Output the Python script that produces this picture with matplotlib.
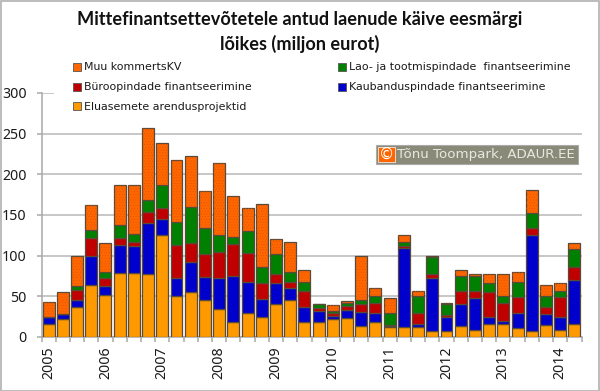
import matplotlib
matplotlib.use("Agg")
import matplotlib.pyplot as plt
import numpy as np
from matplotlib.patches import Rectangle

title = "Mittefinantsettevõtetele antud laenude käive eesmärgi\nlõikes (miljon eurot)"
years = ["2005","2006","2007","2008","2009","2010","2011","2012","2013","2014"]
eluasemete = [15.5,22,37,64,52,79,79,77,126,50,55,46,34,18,30,24,41,45.5,19,19,22,23,13,18,12,12,12,7,7,13,8,16,16,11,7,15,9,16]
kaubandus = [9.5,6,9,35,11,34,33,63,19,23,37,28,39,57,38,23,26,14.5,18,13,4,10,18,11,2,97,4,66,18,27,40,9,4,18,119,13,15,54]
buroo = [0,0,12,23,10,9,5,14,14,40,24,28,31,39,35,20,10,8,20,4,3,5.5,9.5,13,1,3,14,4,2,17,9,30,22,20,8,9,25,16]
lao = [0,0,5,10,7,16,10,14,28,29,44,32,21,8.5,27,19,25,12,11,4,3,3.5,5.5,9,15,5,20,21,14,18,18,12,9,19,18,14,7,22.5]
muu = [18,27,37,30,36,49,60,89,52,76,62,45,89,50.5,29,77,18,37,14,1,7,2,54,9,18,8,7,2,1,7,3,11,27,12,29,13,11,6.5]
series = [
    ("Eluasemete arendusprojektid", eluasemete, "#FF9900"),
    ("Kaubanduspindade finantseerimine", kaubandus, "#0000CC"),
    ("Büroopindade finantseerimine", buroo, "#C00000"),
    ("Lao- ja tootmispindade  finantseerimine", lao, "#008000"),
    ("Muu kommertsKV", muu, "#FF6600"),
]
W, H = 600, 391
plt.rcParams["hatch.linewidth"] = 0.3
fig = plt.figure(figsize=(W/100, H/100), dpi=100, facecolor="white")
ax = fig.add_axes([41.5/W, 1-337/H, 540/W, 244/H])
n = len(eluasemete)
x = np.arange(n)
bottom = np.zeros(n)
for name, vals, col in series:
    v = np.array(vals, float)
    ax.bar(x, v, bottom=bottom, width=0.84, color=col, edgecolor="#5a4a3a", linewidth=0.9, zorder=3)
    if col == "#FF6600":
        ax.bar(x, v, bottom=bottom, width=0.8, facecolor="none", edgecolor="#D85400", hatch="......", linewidth=0, zorder=3.5)
    bottom += v
ax.set_xlim(-0.5, n-0.5)
ax.set_ylim(0, 300)
ax.set_yticks(range(0, 301, 50))
ax.grid(axis="y", color="#b8b8b8", lw=1.1, zorder=0)
ax.set_axisbelow(True)
for s in ("top", "right"):
    ax.spines[s].set_visible(False)
for s in ("left", "bottom"):
    ax.spines[s].set_color("#a8a8a8")
    ax.spines[s].set_linewidth(1.1)
ax.set_xticks(np.arange(n+1)-0.5, minor=True)
ax.set_xticks(np.arange(0, n, 4))
ax.set_xticklabels(years, rotation=90, fontsize=10.2, color="#1a1a1a", family="Noto Sans")
ax.tick_params(axis="x", which="minor", length=3.6, color="#a8a8a8", width=1.1)
ax.tick_params(axis="x", which="major", length=0, pad=7)
ax.tick_params(axis="y", length=3.6, width=1.1, color="#a8a8a8", pad=7, labelsize=10.2, labelcolor="#1a1a1a")
for lab in ax.get_yticklabels():
    lab.set_family("Noto Sans")

fig.text(0.5, 1-32/H, title, ha="center", va="center", fontsize=13.1, fontweight="bold", family="Lato", linespacing=1.5, color="#111111")

# white legend backdrop hides the 300 gridline
fig.add_artist(Rectangle((54/W, 1-96/H), 530/W, 7/H, transform=fig.transFigure, fc="white", ec="none", zorder=2))

def leg(px, py, label, col):
    fig.add_artist(Rectangle((px/W, 1-(py+4)/H), 8/W, 8/H, transform=fig.transFigure, fc=col, ec="#555555", lw=0.6, zorder=3))
    fig.text((px+11)/W, 1-py/H, label, ha="left", va="center", fontsize=7.9, family="DejaVu Sans", color="#1a1a1a", zorder=3)
leg(73, 67, series[4][0], series[4][2])
leg(73, 87, series[2][0], series[2][2])
leg(73, 106.5, series[0][0], series[0][2])
leg(338, 67, series[3][0], series[3][2])
leg(338, 87, series[1][0], series[1][2])

fig.add_artist(Rectangle((376/W, 1-164/H), 202/W, 19/H, transform=fig.transFigure, fc="#8a8a78", ec="#aaaaaa", lw=0.8, zorder=5))
fig.add_artist(Rectangle((378/W, 1-162/H), 17/W, 15/H, transform=fig.transFigure, fc="#FF6600", ec="white", lw=0.5, zorder=5))
fig.text(386.5/W, 1-154.5/H, "©", ha="center", va="center", fontsize=11, color="white", zorder=6)
fig.text(397/W, 1-154.5/H, "Tõnu Toompark, ADAUR.EE", ha="left", va="center", fontsize=9.6, color="#e8e8e0", zorder=6)
# picture frame
fig.add_artist(Rectangle((0.5/W, 0.5/H), 598/W, 390/H, transform=fig.transFigure, fc="none", ec="#b0b0b0", lw=1.2, zorder=7))
fig.savefig("out.png", dpi=100)
